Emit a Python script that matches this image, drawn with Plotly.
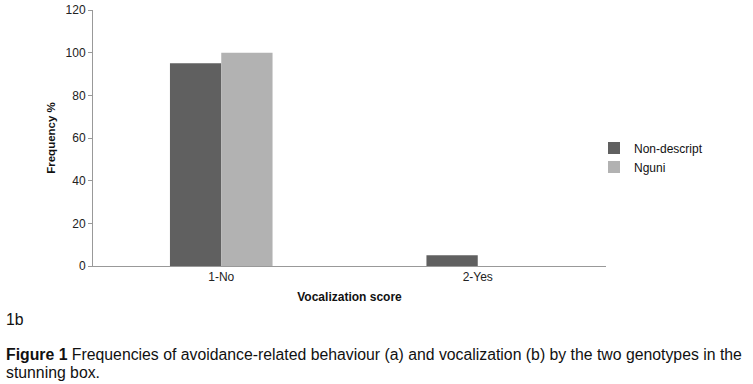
import plotly.graph_objects as go

categories = ["1-No", "2-Yes"]
non_descript = [95, 5]
nguni = [100, 0]
y_ticks = [0, 20, 40, 60, 80, 100, 120]

W, H = 753, 384
# target plot area in page pixels
X0, X1, Y0, Y1 = 93, 606, 10, 266
L, R, T, B = X0, W - X1, Y0, H - Y1
PW, PH = W - L - R, H - T - B

def px(x):
    return (x - X0) / PW

def py(y):
    return (Y1 - y) / PH

fig = go.Figure()
fig.add_trace(go.Bar(x=categories, y=non_descript, name="Non-descript",
                     marker=dict(color="#606060", line=dict(width=0))))
fig.add_trace(go.Bar(x=categories, y=nguni, name="Nguni",
                     marker=dict(color="#b2b2b2", line=dict(width=0))))

fig.update_layout(
    width=W, height=H,
    margin=dict(l=L, r=R, t=T, b=B, autoexpand=False),
    paper_bgcolor="white", plot_bgcolor="white",
    barmode="group", bargap=0.6, bargroupgap=0,
    font=dict(family="Liberation Sans, Arial, sans-serif", size=12, color="#222"),
    showlegend=True,
    legend=dict(x=px(594), xanchor="left", y=py(157.5), yanchor="middle",
                font=dict(size=12, color="#111"), tracegroupgap=4,
                bgcolor="rgba(0,0,0,0)"),
    xaxis=dict(showline=True, linecolor="#999", linewidth=1, ticks="", automargin=False,
               tickfont=dict(size=12, color="#222"),
               title=dict(text="<b>Vocalization score</b>", font=dict(size=12, color="#111"), standoff=9)),
    yaxis=dict(range=[0, 120], tickvals=y_ticks, showline=True, linecolor="#999", linewidth=1,
               ticks="outside", ticklen=4, tickcolor="#999", showgrid=False, zeroline=False,
               automargin=False, tickfont=dict(size=12, color="#222"),
               title=dict(text="<b>Frequency %</b>", font=dict(size=11.5, color="#111"), standoff=7)),
)

cap_font = dict(family="Liberation Sans Narrow, Arial Narrow, Liberation Sans, sans-serif", size=15.8, color="#111")
fig.add_annotation(text="1b", xref="paper", yref="paper", x=px(4), y=py(319),
                   xanchor="left", yanchor="middle", showarrow=False, font=cap_font)
fig.add_annotation(text="<b>Figure 1</b> Frequencies of avoidance-related behaviour (a) and vocalization (b) by the two genotypes in the",
                   xref="paper", yref="paper", x=px(4), y=py(354),
                   xanchor="left", yanchor="middle", align="left", showarrow=False, font=cap_font)
fig.add_annotation(text="stunning box.",
                   xref="paper", yref="paper", x=px(4), y=py(372),
                   xanchor="left", yanchor="middle", align="left", showarrow=False, font=cap_font)

fig.write_html("out.html", config={"displayModeBar": False},
               post_script="document.body.style.margin='0';")
